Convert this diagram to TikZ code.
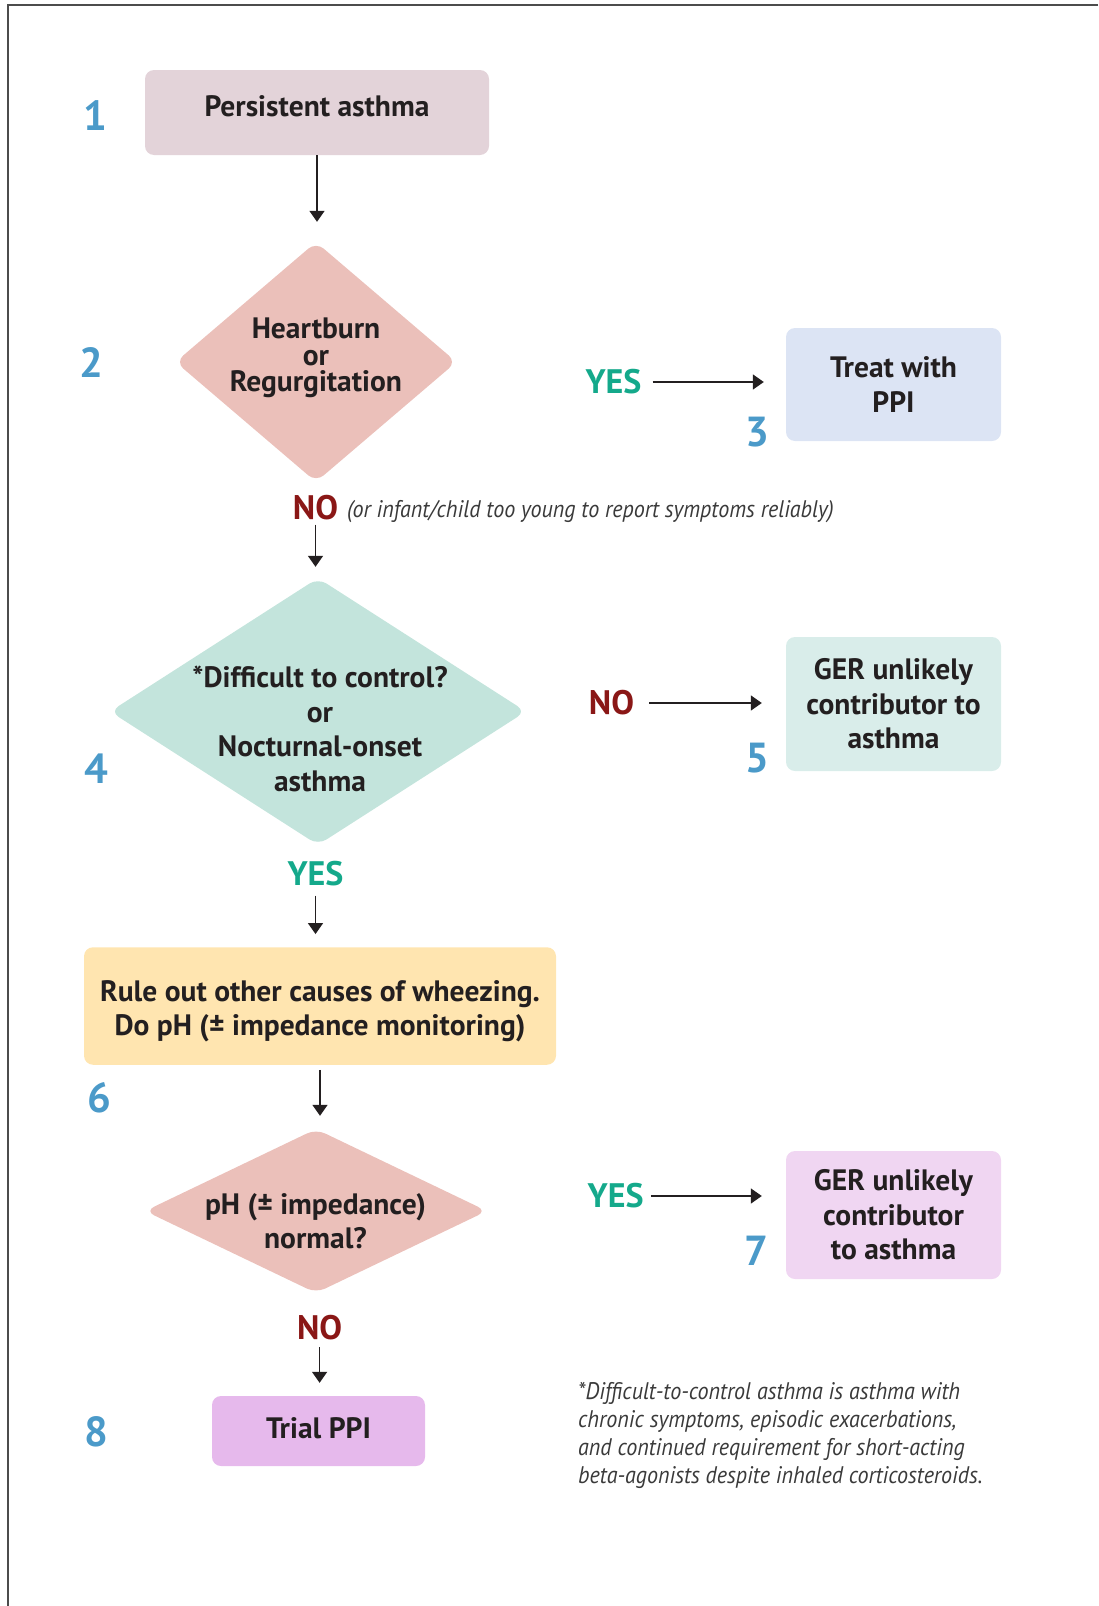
\documentclass[tikz,border=0pt]{standalone}
\usepackage{fontspec}
\setmainfont{PT Sans}
\newfontfamily\notefont[FakeStretch=0.92]{PT Sans}
\usetikzlibrary{shapes.geometric,arrows.meta}
\definecolor{txt}{HTML}{231F20}
\definecolor{numblue}{HTML}{4B9AC9}
\definecolor{yesgreen}{HTML}{14A98B}
\definecolor{nored}{HTML}{8A1716}
\definecolor{notegray}{HTML}{3A3A3A}
\definecolor{cA}{HTML}{E3D3D9}
\definecolor{cB}{HTML}{EBC0BA}
\definecolor{cC}{HTML}{DCE4F4}
\definecolor{cD}{HTML}{C3E4DC}
\definecolor{cE}{HTML}{D9EDEA}
\definecolor{cF}{HTML}{FFE5B0}
\definecolor{cG}{HTML}{F0D6F2}
\definecolor{cH}{HTML}{E6B9EC}
\begin{document}
\begin{tikzpicture}[x=1pt,y=-1pt,
  box/.style={rectangle, rounded corners=9pt, inner sep=0pt, align=center, text=txt,
    font=\fontsize{29.5}{34.5}\selectfont\bfseries},
  dia/.style={diamond, rounded corners=10pt, inner sep=0pt},
  dtext/.style={align=center, inner sep=0pt, text=txt, font=\fontsize{29.5}{34.5}\selectfont\bfseries},
  num/.style={inner sep=0pt, text=numblue, font=\fontsize{42}{42}\selectfont\bfseries},
  yeslab/.style={inner sep=0pt, text=yesgreen, font=\fontsize{34}{34}\selectfont\bfseries},
  nolab/.style={inner sep=0pt, text=nored, font=\fontsize{34}{34}\selectfont\bfseries},
  note/.style={inner sep=0pt, text=notegray, align=left, font=\fontsize{24}{28}\notefont\itshape},
  arr/.style={line width=1.6pt, draw=txt, -{Triangle[length=11pt,width=15pt]}}
]
\useasboundingbox (0,0) rectangle (1098,1606);
\draw[line width=2pt, draw=black!70] (1098,4.5) -- (8,4.5) -- (8,1606);

% boxes
\node[box, fill=cA, minimum width=344pt, minimum height=85pt] (b1) at (317,112.5) {\raisebox{12pt}{Persistent asthma}};
\node[box, fill=cC, minimum width=215pt, minimum height=113pt] (b3) at (893.5,384.5) {Treat with\\PPI};
\node[box, fill=cE, minimum width=215pt, minimum height=134pt] (b5) at (893.5,704) {GER unlikely\\contributor to\\asthma};
\node[box, fill=cF, minimum width=472pt, minimum height=117.5pt] (b6) at (320,1006) {};
\node[dtext] (t6) at (320,1011) {Rule out other causes of wheezing.\\Do pH (± impedance monitoring)};
\node[box, fill=cG, minimum width=215pt, minimum height=128pt] (b7) at (893.5,1215) {GER unlikely\\contributor\\to asthma};
\node[box, fill=cH, minimum width=213pt, minimum height=70pt] (b8) at (318.5,1431) {\raisebox{6pt}{Trial PPI}};

% diamonds
\node[dia, fill=cB, minimum width=281pt, minimum height=240pt] (d2) at (316,362) {};
\node[dtext, font=\fontsize{29.5}{26.5}\selectfont\bfseries] (t2) at (316,358) {Heartburn\\or\\Regurgitation};
\node[dia, fill=cD, minimum width=416pt, minimum height=267pt] (d4) at (318,711.5) {};
\node[dtext] (t4) at (320,729) {*Difficult to control?\\or\\Nocturnal-onset\\asthma};
\node[dia, fill=cB, minimum width=342pt, minimum height=164pt] (d7) at (316,1211) {};
\node[dtext] (t7) at (315.5,1221) {pH (± impedance)\\normal?};

% numbers
\node[num] (n1) at (95,116) {1};
\node[num] (n2) at (91,363) {2};
\node[num] (n3) at (757,432) {3};
\node[num] (n4) at (96,769) {4};
\node[num] (n5) at (757,758) {5};
\node[num] (n6) at (99,1098) {6};
\node[num] (n7) at (756,1251) {7};
\node[num] (n8) at (96,1432) {8};

% yes / no labels
\node[yeslab] (yes3) at (613.5,382) {YES};
\node[nolab] (no2) at (315.5,508) {NO};
\node[note, anchor=west] (nonote) at (347,512) {(or infant/child too young to report symptoms reliably)};
\node[nolab] (no5) at (611.5,703) {NO};
\node[yeslab] (yes4) at (315.5,874) {YES};
\node[yeslab] (yes7) at (615.6,1196) {YES};
\node[nolab] (no8) at (319.6,1327.5) {NO};

% footnote
\node[note, anchor=west] (fn) at (578,1435) {*Difficult-to-control asthma is asthma with\\chronic symptoms, episodic exacerbations,\\and continued requirement for short-acting\\beta-agonists despite inhaled corticosteroids.};

% connectors
\draw[arr, shorten >=20pt] (b1.south) -- (b1.south |- d2.north);
\draw[arr, shorten <=11pt, shorten >=22pt] (yes3.east) -- (yes3.east -| b3.west);
\draw[arr, shorten <=4pt, shorten >=11pt] (no2.south) -- (no2.south |- d4.north);
\draw[arr, shorten <=15pt, shorten >=24pt] (no5.east) -- (no5.east -| b5.west);
\draw[arr, shorten <=9pt, shorten >=13pt] (yes4.south) -- (yes4.south |- b6.north);
\draw[arr, shorten <=5pt, shorten >=13pt] (b6.south) -- (b6.south |- d7.north);
\draw[arr, shorten <=7pt, shorten >=24pt] (yes7.east) -- (yes7.east -| b7.west);
\draw[arr, shorten <=7pt, shorten >=13pt] (no8.south) -- (no8.south |- b8.north);
\end{tikzpicture}
\end{document}
